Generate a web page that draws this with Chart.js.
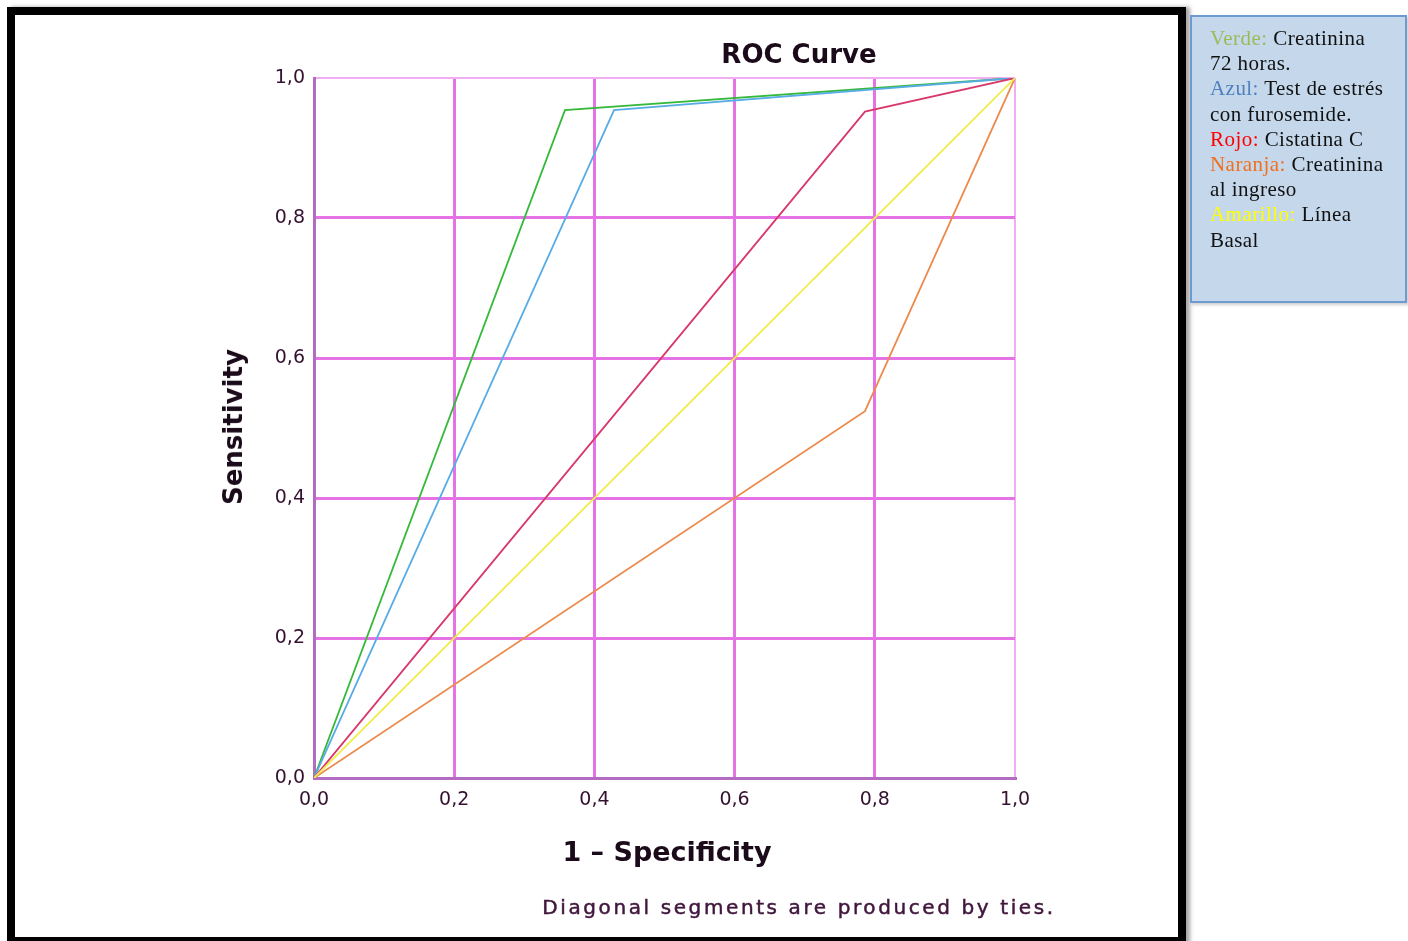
<!DOCTYPE html>
<html>
<head>
<meta charset="utf-8">
<script src="https://cdn.jsdelivr.net/npm/chart.js@4/dist/chart.umd.min.js"></script>
<style>
  body { margin: 0; width: 1408px; height: 941px; overflow: hidden; background: #fff; position: relative; }
  #frame { position: absolute; left: 7px; top: 7px; width: 1179px; height: 938px; box-sizing: border-box; border: 8px solid #000; box-shadow: 4px 0 4px rgba(0,0,0,0.35); }
  #roc { position: absolute; left: 0; top: 0; }
  .lbl { position: absolute; transform: translate(-50%, -50%); white-space: nowrap; font-family: "DejaVu Sans", sans-serif; font-weight: bold; color: #1a0a1a; }
  #legend { position: absolute; left: 1190px; top: 15px; width: 217px; height: 288px; box-sizing: border-box; border: 2px solid #6d9bd0; background: #c4d7eb; padding: 9px 0 0 18px; font-family: "Liberation Serif", serif; font-size: 21px; letter-spacing: 0.45px; line-height: 25.2px; color: #111; box-shadow: 2px 2px 3px rgba(0,0,0,0.2); }
</style>
</head>
<body>
<div id="frame"></div>
<canvas id="roc" width="1408" height="941"></canvas>
<div class="lbl" style="left:799px; top:54px; font-size:26px;">ROC Curve</div>
<div class="lbl" style="left:233px; top:427px; font-size:26px; transform: translate(-50%, -50%) rotate(-90deg);">Sensitivity</div>
<div class="lbl" style="left:667px; top:851px; font-size:27px;">1 &ndash; Specificity</div>
<div class="lbl" style="left:799px; top:907px; font-size:20px; font-weight:normal; letter-spacing:2.6px; color:#40163c; -webkit-text-stroke:0.5px #40163c;">Diagonal segments are produced by ties.</div>
<div id="legend">
  <span style="color:#9bbb59">Verde:</span> Creatinina<br>72 horas.<br>
  <span style="color:#4f81bd">Azul:</span> Test de estrés<br>con furosemide.<br>
  <span style="color:#ff0000">Rojo:</span> Cistatina C<br>
  <span style="color:#f07020">Naranja:</span> Creatinina<br>al ingreso<br>
  <span style="color:#ffff00">Amarillo:</span> Línea<br>Basal
</div>
<script>
// 1 - specificity / sensitivity for each curve
var verdeX = [0, 0.358, 1]
var verdeY = [0, 0.954, 1]
var azulX = [0, 0.428, 1]
var azulY = [0, 0.954, 1]
var rojoX = [0, 0.786, 1]
var rojoY = [0, 0.952, 1]
var naranjaX = [0, 0.786, 1]
var naranjaY = [0, 0.524, 1]
var amarilloX = [0, 1]
var amarilloY = [0, 1]

var tickValues = [0, 0.2, 0.4, 0.6, 0.8, 1.0]

function pts(xs, ys) {
    var out = []
    for (var i = 0; xs.length > i; i++) out.push({x: xs[i], y: ys[i]})
    return out
}

function fmt(v) {
    return Number(v).toFixed(1).replace('.', ',')
}

function gridColor(ctx) {
    var v = ctx.tick ? ctx.tick.value : 0
    if (v < 0.01) return 'rgba(0,0,0,0)'
    if (v > 0.99) return '#f2aef2'
    return '#e673e6'
}
function gridWidth(ctx) {
    var v = ctx.tick ? ctx.tick.value : 0
    if (v > 0.99) return 2
    return 3
}

function line(data, color) {
    return { data: data, borderColor: color, borderWidth: 1.8, pointRadius: 0, showLine: true, fill: false, tension: 0 }
}

var tickFont = { family: 'DejaVu Sans', size: 19 }

var ctx = document.getElementById('roc').getContext('2d')
var chart = new Chart(ctx, {
    type: 'scatter',
    data: {
        datasets: [
            line(pts(amarilloX, amarilloY), '#f0ec4c'),
            line(pts(naranjaX, naranjaY), '#ec8a4c'),
            line(pts(rojoX, rojoY), '#d8386a'),
            line(pts(azulX, azulY), '#58ace6'),
            line(pts(verdeX, verdeY), '#36b83a')
        ]
    },
    options: {
        responsive: false,
        animation: false,
        devicePixelRatio: 1,
        layout: { padding: { left: 214, right: 393, top: 78, bottom: 123 } },
        plugins: { legend: { display: false }, tooltip: { enabled: false } },
        scales: {
            x: {
                type: 'linear', min: 0, max: 1,
                afterFit: function(s) { s.height = 40 },
                afterBuildTicks: function(s) { s.ticks = tickValues.map(function(v) { return {value: v} }) },
                ticks: { callback: fmt, font: tickFont, color: '#34122f', padding: 11, maxRotation: 0 },
                grid: { color: gridColor, lineWidth: gridWidth, drawTicks: false },
                border: { color: '#b46bc2', width: 3 }
            },
            y: {
                type: 'linear', min: 0, max: 1,
                afterFit: function(s) { s.width = 100 },
                afterBuildTicks: function(s) { s.ticks = tickValues.map(function(v) { return {value: v} }) },
                ticks: { callback: fmt, font: tickFont, color: '#34122f', padding: 9 },
                grid: { color: gridColor, lineWidth: gridWidth, drawTicks: false },
                border: { color: '#b46bc2', width: 3 }
            }
        }
    }
})
</script>
</body>
</html>
